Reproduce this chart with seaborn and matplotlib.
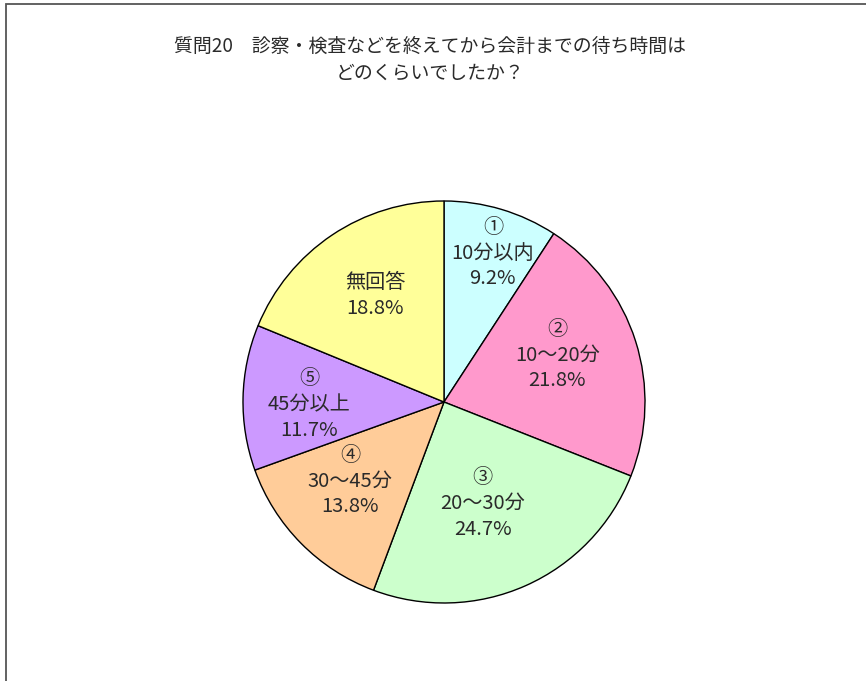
import numpy as np
import matplotlib
matplotlib.use("Agg")
import matplotlib.pyplot as plt
from matplotlib.patches import Rectangle
import seaborn as sns

sns.set_theme(style="white")
plt.rcParams['font.family'] = ['Noto Sans CJK JP', 'DejaVu Sans']

# data (clockwise from 12 o'clock)
marks = ["①", "②", "③", "④", "⑤", ""]
labels = ["10分以内", "10～20分", "20～30分", "30～45分", "45分以上", "無回答"]
shares = [9.2, 21.8, 24.7, 13.8, 11.7, 18.8]
colors = ["#CCFFFF", "#FF99CC", "#CCFFCC", "#FFCC99", "#CC99FF", "#FFFF99"]
# label placement: radius fraction and clockwise nudge (deg) from the wedge middle
label_r = [0.78, 0.61, 0.54, 0.61, 0.67, 0.63]
label_nudge = [1.6, -5.0, 3.0, 4.6, -2.3, 1.0]

W, H = 866, 681
fig = plt.figure(figsize=(W / 100, H / 100), dpi=100)
fig.patch.set_facecolor("white")

# outer frame (only left and top visible in the crop)
fig.patches.append(Rectangle((6 / W, -0.1), 1.2, 1 - 4 / H + 0.1, transform=fig.transFigure,
                             fill=False, edgecolor="#555555", linewidth=1.3))

cx, cy, r = 444, 402, 201
ax = fig.add_axes([(cx - r) / W, (H - cy - r) / H, 2 * r / W, 2 * r / H])
wedges, _ = ax.pie(shares, colors=colors, startangle=90, counterclock=False,
                   wedgeprops=dict(edgecolor="black", linewidth=1.0))
ax.set_xlim(-1, 1)
ax.set_ylim(-1, 1)
ax.set_aspect("equal")
ax.axis("off")

for w, m, lab, s, rr, dn in zip(wedges, marks, labels, shares, label_r, label_nudge):
    ang = np.deg2rad((w.theta1 + w.theta2) / 2 - dn)
    txt = f"{lab}\n{s:.1f}%" if m == "" else f"{m}\n{lab}\n{s:.1f}%"
    ax.text(rr * np.cos(ang), rr * np.sin(ang), txt, ha="center", va="center",
            fontsize=14.5, color="#2a2a2a", linespacing=1.3)

fig.text(430 / W, 1 - 60 / H, "質問20　診察・検査などを終えてから会計までの待ち時間は\nどのくらいでしたか？",
         ha="center", va="center", fontsize=13.6, color="#2a2a2a", linespacing=1.35)

fig.savefig("out.png", dpi=100)
